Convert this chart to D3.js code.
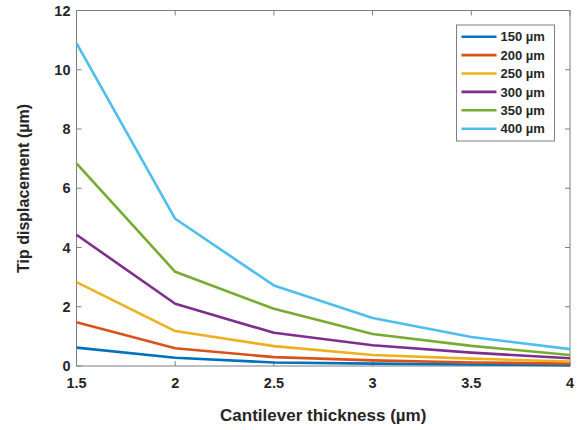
<!DOCTYPE html>
<html>
<head>
<meta charset="utf-8">
<script src="https://cdn.jsdelivr.net/npm/d3@7"></script>
<style>
  body { margin: 0; background: #fff; }
  svg text { font-family: "Liberation Sans", Arial, sans-serif; font-weight: bold; fill: #262626; }
</style>
</head>
<body>
<div id="chart"></div>
<script>
// thickness values (µm)
var thickness = [1.5, 2, 2.5, 3, 3.5, 4];
var lengths = ["150 µm", "200 µm", "250 µm", "300 µm", "350 µm", "400 µm"];
var colors = ["#0072BD", "#D95319", "#EDB120", "#7E2F8E", "#77AC30", "#4DBEEE"];

// tip displacement (µm), one array per cantilever length
var d150 = [0.62, 0.28, 0.12, 0.08, 0.05, 0.03];
var d200 = [1.48, 0.60, 0.30, 0.19, 0.12, 0.08];
var d250 = [2.83, 1.18, 0.67, 0.37, 0.25, 0.15];
var d300 = [4.43, 2.10, 1.12, 0.70, 0.45, 0.26];
var d350 = [6.84, 3.18, 1.93, 1.08, 0.68, 0.37];
var d400 = [10.9, 4.97, 2.72, 1.62, 0.98, 0.57];
var series = [d150, d200, d250, d300, d350, d400];

var xTicks = [1.5, 2, 2.5, 3, 3.5, 4];
var yTicks = [0, 2, 4, 6, 8, 10, 12];

var width = 580, height = 430;
var margin = { left: 76.5, right: 10, top: 10.5, bottom: 64 };

var svg = d3.select("#chart").append("svg")
    .attr("width", width)
    .attr("height", height);

var x = d3.scaleLinear().domain([1.5, 4]).range([margin.left, width - margin.right]);
var y = d3.scaleLinear().domain([0, 12]).range([height - margin.bottom, margin.top]);

var axisColor = "#7f7f7f";

// box
svg.append("rect")
    .attr("x", x(1.5)).attr("y", y(12))
    .attr("width", x(4) - x(1.5)).attr("height", y(0) - y(12))
    .attr("fill", "none").attr("stroke", axisColor).attr("stroke-width", 1);

// ticks (inside, all four sides)
var tl = 5;
xTicks.forEach(function (t) {
    svg.append("line").attr("x1", x(t)).attr("x2", x(t)).attr("y1", y(0)).attr("y2", y(0) - tl)
        .attr("stroke", axisColor);
    svg.append("line").attr("x1", x(t)).attr("x2", x(t)).attr("y1", y(12)).attr("y2", y(12) + tl)
        .attr("stroke", axisColor);
    svg.append("text").attr("x", x(t)).attr("y", y(0) + 22)
        .attr("text-anchor", "middle").attr("font-size", 14.5).text(t);
});
yTicks.forEach(function (t) {
    svg.append("line").attr("x1", x(1.5)).attr("x2", x(1.5) + tl).attr("y1", y(t)).attr("y2", y(t))
        .attr("stroke", axisColor);
    svg.append("line").attr("x1", x(4)).attr("x2", x(4) - tl).attr("y1", y(t)).attr("y2", y(t))
        .attr("stroke", axisColor);
    svg.append("text").attr("x", x(1.5) - 6).attr("y", y(t)).attr("dy", "0.36em")
        .attr("text-anchor", "end").attr("font-size", 14.5).text(t);
});

// axis titles
svg.append("text")
    .attr("x", (x(1.5) + x(4)) / 2).attr("y", 421)
    .attr("text-anchor", "middle").attr("font-size", 17)
    .text("Cantilever thickness (µm)");
svg.append("text")
    .attr("transform", "translate(29," + 188.5 + ") rotate(-90)")
    .attr("text-anchor", "middle").attr("font-size", 16)
    .text("Tip displacement (µm)");

// lines
var line = d3.line()
    .x(function (d, i) { return x(thickness[i]); })
    .y(function (d) { return y(d); });

svg.append("g").selectAll("path")
    .data(series)
    .enter().append("path")
    .attr("d", line)
    .attr("fill", "none")
    .attr("stroke", function (d, i) { return colors[i]; })
    .attr("stroke-width", 2.6)
    .attr("stroke-linejoin", "round");

// legend
var lg = svg.append("g");
lg.append("rect")
    .attr("x", 456.5).attr("y", 25)
    .attr("width", 98).attr("height", 116)
    .attr("fill", "#fff").attr("stroke", axisColor);
lengths.forEach(function (name, i) {
    var ly = 36.7 + i * 18.4;
    lg.append("line").attr("x1", 461.5).attr("x2", 496.5).attr("y1", ly).attr("y2", ly)
        .attr("stroke", colors[i]).attr("stroke-width", 2.6);
    lg.append("text").attr("x", 500.5).attr("y", ly).attr("dy", "0.36em")
        .attr("font-size", 13).text(name);
});
</script>
</body>
</html>
